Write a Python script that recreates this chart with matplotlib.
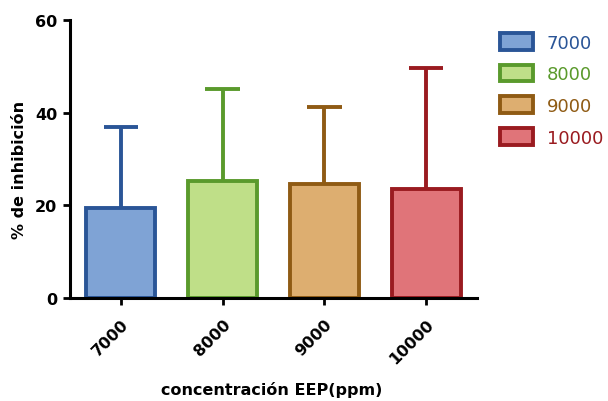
import matplotlib.pyplot as plt

plt.rcParams['font.family'] = ['DejaVu Sans']

concentrations = ['7000', '8000', '9000', '10000']
inhibition = [19.5, 25.3, 24.6, 23.5]
error_up = [17.4, 19.8, 16.6, 26.1]

edge_colors = ['#2A5597', '#5A9A2C', '#8F5B14', '#9A1B20']
fill_colors = ['#7FA3D5', '#BFDF88', '#DDAE70', '#E07479']

fig = plt.figure(figsize=(6.08, 4.02), dpi=100)
ax = fig.add_axes([70 / 608, 1 - 299 / 402, 407 / 608, 278 / 402])

pos = list(range(len(concentrations)))
bar_w = 0.68
cap_half = 0.17
bars = []
for i in pos:
    top = inhibition[i] + error_up[i]
    # upper error only: stem from the bar top plus a cap
    ax.vlines(pos[i], inhibition[i], top, color=edge_colors[i], linewidth=2.8, zorder=1)
    ax.hlines(top, pos[i] - cap_half, pos[i] + cap_half, color=edge_colors[i],
              linewidth=2.8, zorder=1)
    b = ax.bar(pos[i], inhibition[i], width=bar_w, color=fill_colors[i],
               edgecolor=edge_colors[i], linewidth=2.8, zorder=2)
    bars.append(b)

ax.set_xlim(-0.5, 3.5)
ax.set_ylim(0, 60)
ax.set_yticks([0, 20, 40, 60])
ax.set_xticks(pos)
ax.set_xticklabels(concentrations, rotation=45, ha='right', rotation_mode='anchor',
                   fontweight='bold', fontsize=11.5)
for lbl in ax.get_yticklabels():
    lbl.set_fontweight('bold')
    lbl.set_fontsize(11.5)

for s in ['top', 'right']:
    ax.spines[s].set_visible(False)
for s in ['left', 'bottom']:
    ax.spines[s].set_linewidth(2.2)
ax.tick_params(axis='both', width=2.0, length=5, direction='out')
ax.tick_params(axis='x', pad=8)
ax.tick_params(axis='y', pad=4)

ax.set_ylabel('% de inhibición', fontweight='bold', fontsize=11.5)
ax.yaxis.set_label_coords((27 - 70) / 407, (299 - 170) / 278)
ax.set_xlabel('concentración EEP(ppm)', fontweight='bold', fontsize=11.5)
ax.xaxis.label.set_verticalalignment('baseline')
ax.xaxis.set_label_coords(0.495, (299 - 395) / 278)

leg = fig.legend(handles=[b[0] for b in bars], labels=concentrations,
                 loc='upper left', bbox_to_anchor=(500 / 608, 1 - 34 / 402),
                 frameon=False, fontsize=13, handlelength=1.85, handleheight=1.05,
                 handletextpad=0.75, labelspacing=0.73, borderpad=0, borderaxespad=0)
for txt, c in zip(leg.get_texts(), edge_colors):
    txt.set_color(c)

fig.savefig('out.png', dpi=100)
